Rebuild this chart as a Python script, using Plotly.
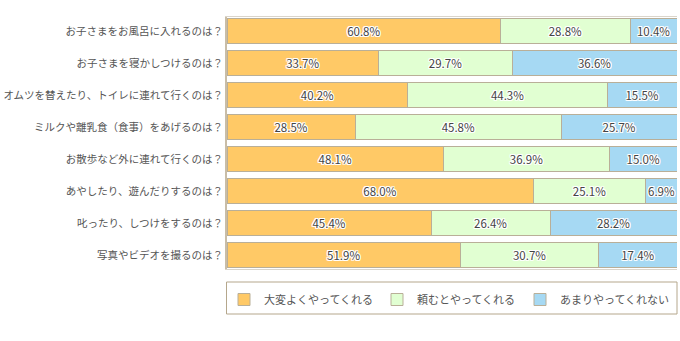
import plotly.graph_objects as go

categories = [
    "お子さまをお風呂に入れるのは？",
    "お子さまを寝かしつけるのは？",
    "オムツを替えたり、トイレに連れて行くのは？",
    "ミルクや離乳食（食事）をあげるのは？",
    "お散歩など外に連れて行くのは？",
    "あやしたり、遊んだりするのは？",
    "叱ったり、しつけをするのは？",
    "写真やビデオを撮るのは？",
]
series_names = ["大変よくやってくれる", "頼むとやってくれる", "あまりやってくれない"]
very_well = [60.8, 33.7, 40.2, 28.5, 48.1, 68.0, 45.4, 51.9]
when_asked = [28.8, 29.7, 44.3, 45.8, 36.9, 25.1, 26.4, 30.7]
rarely = [10.4, 36.6, 15.5, 25.7, 15.0, 6.9, 28.2, 17.4]

colors = ["#FFC966", "#E1FFD2", "#A6D9F3"]
FONT = "Noto Sans CJK JP"
halo = "1px 0 0 #fff, -1px 0 0 #fff, 0 1px 0 #fff, 0 -1px 0 #fff, 1px 1px 0 #fff, -1px -1px 0 #fff, 1px -1px 0 #fff, -1px 1px 0 #fff"

fig = go.Figure()
legends = ["legend", "legend2", "legend3"]
for name, vals, col, lg in zip(series_names, [very_well, when_asked, rarely], colors, legends):
    fig.add_trace(go.Bar(
        name=name, y=categories, x=vals, orientation="h",
        marker=dict(color=col, line=dict(color="#B9AF98", width=1)),
        text=[f"{v:.1f}%" for v in vals],
        textposition="inside", insidetextanchor="middle", textangle=0,
        textfont=dict(family=FONT, size=11.5, color="#444", shadow=halo),
        width=0.76, legend=lg, hoverinfo="skip",
    ))

TOP, BOT = 17, 269
H = BOT - TOP
leg_common = dict(orientation="h", font=dict(family=FONT, size=11, color="#555"),
                  bgcolor="rgba(0,0,0,0)", borderwidth=0, yanchor="middle", xanchor="left",
                  itemclick=False, itemdoubleclick=False)
ly = (BOT - 299.5) / H
fig.update_layout(
    barmode="stack",
    width=680, height=341,
    margin=dict(l=227, r=3, t=TOP, b=341 - BOT, autoexpand=False),
    paper_bgcolor="white", plot_bgcolor="white",
    uniformtext=dict(minsize=11, mode="show"),
    xaxis=dict(range=[0, 100], showgrid=False, zeroline=False, showticklabels=False,
               showline=True, linecolor="#DAD5CB", linewidth=1, mirror=True, fixedrange=True,
               automargin=False),
    yaxis=dict(range=[7.44, -0.44], showgrid=False, zeroline=False, automargin=False,
               showline=True, linecolor="#C9BDA7", linewidth=2, ticks="",
               tickfont=dict(family=FONT, size=10.5, color="#555"), fixedrange=True),
    legend=dict(x=(224 - 227) / 450, y=ly, **leg_common),
    legend2=dict(x=(377 - 227) / 450, y=ly, **leg_common),
    legend3=dict(x=(520 - 227) / 450, y=ly, **leg_common),
    showlegend=True,
    shapes=[dict(type="rect", xref="paper", yref="paper",
                 x0=-0.5 / 450, x1=1.0, y0=(BOT - 314) / H, y1=(BOT - 282) / H,
                 line=dict(color="#B5A78C", width=1), fillcolor="rgba(0,0,0,0)")],
)
fig.write_html("out.html")
